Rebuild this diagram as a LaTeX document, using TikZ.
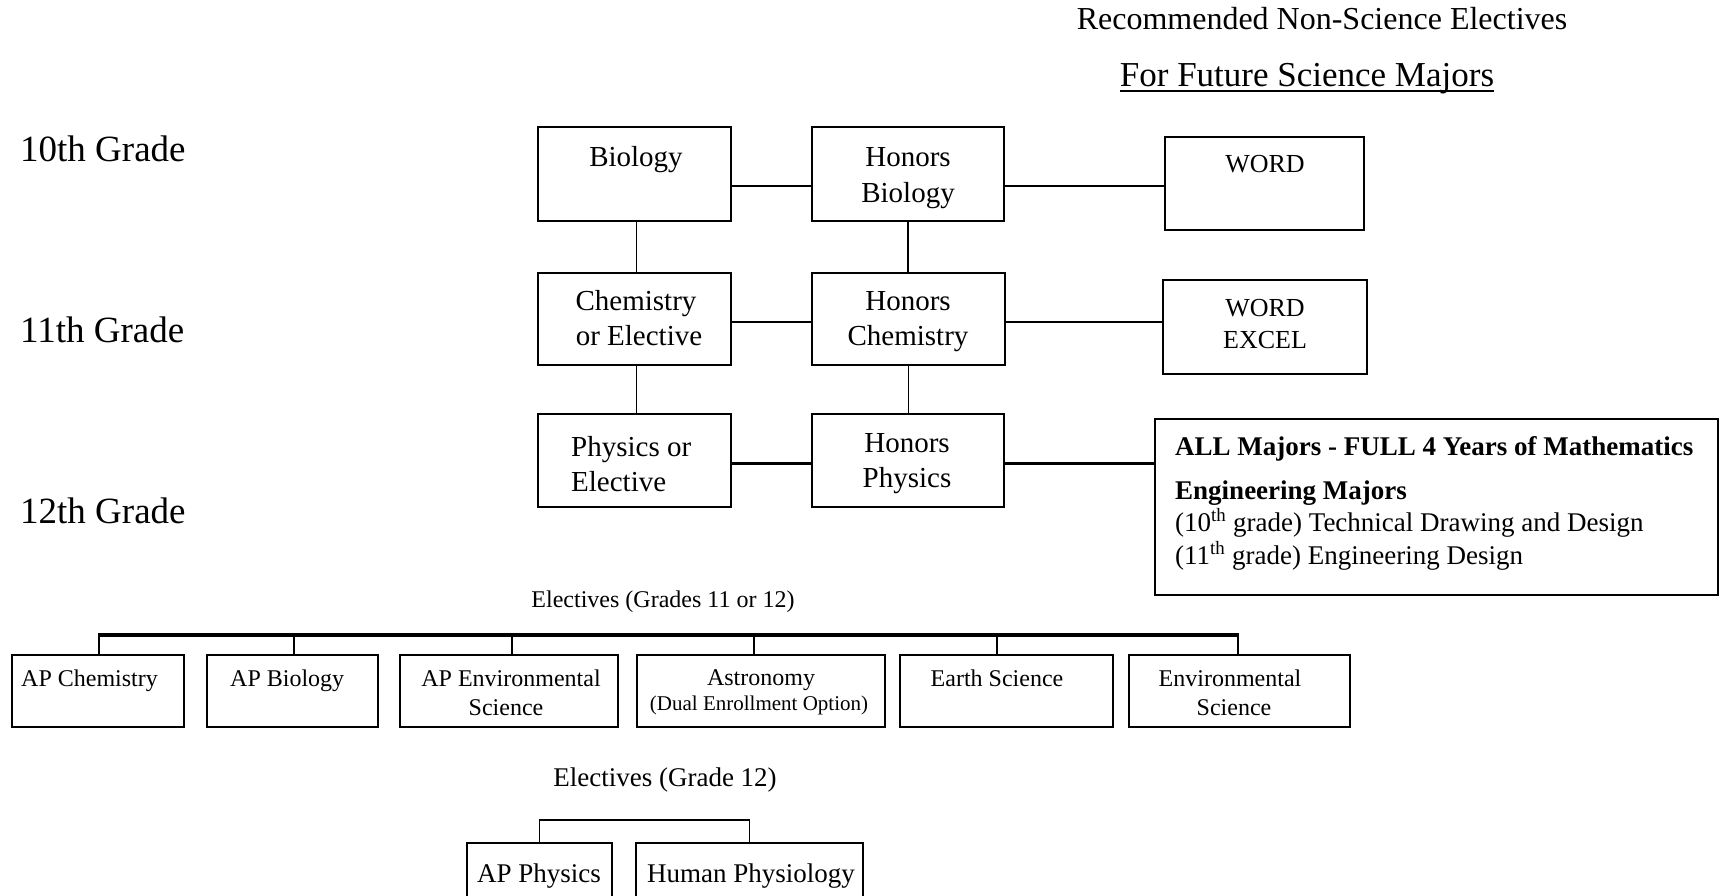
\documentclass[tikz,border=0pt]{standalone}
\usepackage{fontspec}
\setmainfont{Liberation Serif}
\usetikzlibrary{fit}
\begin{document}
\begin{tikzpicture}[x=1pt,y=-1pt,
 box/.style={draw, line width=1.6pt, inner sep=0pt, outer sep=0pt},
 ln/.style={line width=1.6pt},
 thk/.style={line width=2.6pt},
 bus/.style={line width=3.2pt},
 drp/.style={line width=2.2pt},
 tb/.style={inner sep=0pt, anchor=base},
 tl/.style={inner sep=0pt, anchor=base west},
 fbig/.style={font=\fontsize{37}{44}\selectfont},
 fmain/.style={font=\fontsize{29}{35}\selectfont},
 ftitle/.style={font=\fontsize{32}{38}\selectfont},
 fsub/.style={font=\fontsize{35}{42}\selectfont},
 fword/.style={font=\fontsize{26}{31}\selectfont},
 fall/.style={font=\fontsize{27}{32}\selectfont},
 fbold/.style={font=\fontsize{27}{32}\selectfont\bfseries},
 fel/.style={font=\fontsize{24}{29}\selectfont},
 fdual/.style={font=\fontsize{21}{25}\selectfont},
 fg/.style={font=\fontsize{27}{32}\selectfont},
]
\clip (0,0) rectangle (1721,895);
\fill[white] (0,0) rectangle (1721,895);

% titles
\node[tb,ftitle] (t1) at (1322,29) {Recommended Non-Science Electives};
\node[tb,fsub] (t2) at (1307,86) {For Future Science Majors};
\draw[line width=1.5pt] ([yshift=-5pt]t2.base west) -- ([yshift=-5pt]t2.base east);

% grade labels
\node[tl,fbig] (g10) at (20,161) {10th Grade};
\node[tl,fbig] (g11) at (20,342) {11th Grade};
\node[tl,fbig] (g12) at (20,523) {12th Grade};

% main grid boxes
\node[box, fit={(538,127) (731,221)}] (bio) {};
\node[box, fit={(812,127) (1004,221)}] (hbio) {};
\node[box, fit={(538,273) (731,365)}] (chem) {};
\node[box, fit={(812,273) (1005,365)}] (hchem) {};
\node[box, fit={(538,414) (731,507)}] (phys) {};
\node[box, fit={(812,414) (1004,507)}] (hphys) {};

\node[tb,fmain] (biot) at (636,166) {Biology};
\node[tb,fmain] (hbiot1) at (908,166) {Honors};
\node[tb,fmain] (hbiot2) at (908,202) {Biology};
\node[tb,fmain] (chemt1) at (636,310) {Chemistry};
\node[tb,fmain] (chemt2) at (639,345) {or Elective};
\node[tb,fmain] (hchemt1) at (908,310) {Honors};
\node[tb,fmain] (hchemt2) at (908,345) {Chemistry};
\node[tl,fmain] (physt1) at (571,456) {Physics or};
\node[tl,fmain] (physt2) at (571,491) {Elective};
\node[tb,fmain] (hphyst1) at (907,452) {Honors};
\node[tb,fmain] (hphyst2) at (907,487) {Physics};

% right boxes
\node[box, fit={(1165,137) (1364,230)}] (word) {};
\node[box, fit={(1163,280) (1367,374)}] (wexc) {};
\node[box, fit={(1155,419) (1718,595)}] (allm) {};

\node[tb,fword] (wordt) at (1265,172) {WORD};
\node[tb,fword] (wexct1) at (1265,316) {WORD};
\node[tb,fword] (wexct2) at (1265,348) {EXCEL};
\node[tl,fbold] (allt1) at (1175,455) {ALL Majors - FULL 4 Years of Mathematics};
\node[tl,fbold] (allt2) at (1175,499) {Engineering Majors};
\node[tl,fall] (allt3) at (1175,531) {(10\textsuperscript{th} grade) Technical Drawing and Design};
\node[tl,fall] (allt4) at (1175,564) {(11\textsuperscript{th} grade) Engineering Design};

% connectors in grid
\draw[ln] ([yshift=-12pt]bio.east) -- ([yshift=-12pt]bio.east -| hbio.west);
\draw[ln] ([yshift=-12pt]hbio.east) -- ([yshift=-12pt]hbio.east -| word.west);
\draw[ln] ([yshift=-3pt]chem.east) -- ([yshift=-3pt]chem.east -| hchem.west);
\draw[ln] ([yshift=-3pt]hchem.east) -- ([yshift=-3pt]hchem.east -| wexc.west);
\draw[thk] ([yshift=-3pt]phys.east) -- ([yshift=-3pt]phys.east -| hphys.west);
\draw[thk] ([yshift=-3pt]hphys.east) -- ([yshift=-3pt]hphys.east -| allm.west);
\draw[ln] ([xshift=2pt]bio.south) -- ([xshift=2pt]bio.south |- chem.north);
\draw[ln] ([xshift=2pt]chem.south) -- ([xshift=2pt]chem.south |- phys.north);
\draw[ln] (hbio.south) -- (hbio.south |- hchem.north);
\draw[ln] (hchem.south) -- (hchem.south |- hphys.north);

% electives grades 11 or 12
\node[tb,fel] (el1) at (663,607) {Electives (Grades 11 or 12)};
\node[box, fit={(12,655) (184,727)}] (apc) {};
\node[box, fit={(207,655) (378,727)}] (apb) {};
\node[box, fit={(400,655) (618,727)}] (ape) {};
\node[box, fit={(637,655) (885,727)}] (ast) {};
\node[box, fit={(900,655) (1113,727)}] (ear) {};
\node[box, fit={(1129,655) (1350,727)}] (env) {};

\node[tl,fel] (apct) at (21,686) {AP Chemistry};
\node[tl,fel] (apbt) at (230,686) {AP Biology};
\node[tb,fel] (apet1) at (511,686) {AP Environmental};
\node[tb,fel] (apet2) at (506,715) {Science};
\node[tb,fel] (astt1) at (761,685) {Astronomy};
\node[tb,fdual] (astt2) at (759,710) {(Dual Enrollment Option)};
\node[tb,fel] (eart) at (997,686) {Earth Science};
\node[tb,fel] (envt1) at (1230,686) {Environmental};
\node[tb,fel] (envt2) at (1234,715) {Science};

\coordinate (busL) at (99,635);
\coordinate (busR) at (1238,635);
\draw[bus] ([xshift=-1.1pt]busL) -- ([xshift=1.1pt]busR);
\draw[drp] (busL) -- (busL |- apc.north);
\draw[drp] ([xshift=1.5pt]apb.north) -- ([xshift=1.5pt]apb.north |- busL);
\draw[drp] ([xshift=3pt]ape.north) -- ([xshift=3pt]ape.north |- busL);
\draw[drp] ([xshift=-7pt]ast.north) -- ([xshift=-7pt]ast.north |- busL);
\draw[drp] ([xshift=-9.5pt]ear.north) -- ([xshift=-9.5pt]ear.north |- busL);
\draw[drp] (busR) -- (busR |- env.north);

% electives grade 12
\node[tb,fg] (el2) at (665,786) {Electives (Grade 12)};
\node[box, fit={(467,843) (612,915)}] (app) {};
\node[box, fit={(636,843) (863,915)}] (hum) {};
\node[tb,fg] (appt) at (539,882) {AP Physics};
\node[tb,fg] (humt) at (751,882) {Human Physiology};
\draw[ln] (app.north) |- ([yshift=23pt]hum.north) -- (hum.north);
\end{tikzpicture}
\end{document}
